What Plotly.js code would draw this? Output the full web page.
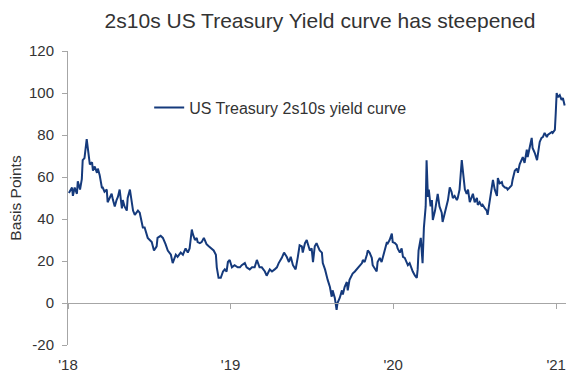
<!DOCTYPE html>
<html>
<head>
<meta charset="utf-8">
<script src="https://cdn.plot.ly/plotly-3.0.1.min.js"></script>
<style>html,body{margin:0;padding:0;background:#fff;}#chart{width:566px;height:374px;}</style>
</head>
<body>
<div id="chart"></div>
<script>
// Years elapsed since 1 Jan 2018 for each observation
const yearsFrom2018 = [
  0.006,0.025,0.031,0.043,0.055,0.061,0.074,0.086,0.092,0.104,0.117,0.129,0.135,0.148,0.154,0.166,0.178,0.184,0.197,0.209,
  0.215,0.227,0.240,0.246,0.258,0.270,0.277,0.289,0.301,0.307,0.320,0.332,0.338,0.350,0.363,0.369,0.381,0.393,0.400,0.412,
  0.424,0.430,0.443,0.455,0.461,0.473,0.486,0.492,
  0.516,0.529,0.547,0.553,0.572,0.584,0.602,0.615,0.633,0.645,0.664,0.676,0.695,0.707,0.725,0.738,0.750,0.762,0.768,0.781,
  0.793,0.799,0.811,0.824,0.836,0.854,0.867,0.885,0.897,0.910,0.916,0.928,0.940,0.953,0.965,0.977,0.983,
  0.996,1.008,1.026,1.045,1.057,1.069,1.088,1.100,1.119,1.131,1.149,1.162,1.180,1.192,1.211,1.223,1.242,1.254,1.272,1.285,
  1.297,1.315,1.328,1.346,1.358,1.371,1.383,1.401,1.414,1.426,1.438,1.444,
  1.457,1.469,1.475,1.487,1.500,1.506,1.518,1.530,1.537,1.549,1.561,1.567,1.580,1.592,1.598,1.610,1.623,1.629,1.641,1.653,
  1.659,1.672,1.684,1.690,1.702,1.715,1.721,1.733,1.746,1.752,1.764,1.776,1.782,1.795,1.807,1.813,1.825,1.838,1.844,1.856,
  1.868,1.875,1.887,1.899,1.905,1.918,1.930,1.936,1.948,1.961,1.967,
  1.979,1.991,1.998,2.010,2.022,2.028,2.041,2.053,2.059,2.071,2.084,2.090,2.102,2.114,2.120,2.133,2.145,2.151,2.157,2.170,
  2.176,2.182,2.188,2.194,2.200,2.206,2.213,2.219,2.231,2.237,2.243,2.256,2.268,2.274,2.286,2.299,2.305,2.317,2.329,2.336,
  2.348,2.360,2.366,2.379,2.391,2.397,2.409,2.422,2.428,2.440,2.452,2.459,
  2.471,2.483,2.489,2.502,2.514,2.520,2.532,2.545,2.551,2.563,2.575,2.581,2.588,2.594,2.606,2.612,2.624,2.637,2.643,2.655,
  2.667,2.674,2.686,2.698,2.704,2.717,2.729,2.735,2.747,2.760,2.766,2.778,2.790,2.797,2.809,2.821,2.827,2.840,2.852,2.858,
  2.870,2.883,2.889,2.901,2.913,2.919,2.932,2.944,2.950,2.963,2.975,2.981,2.993,2.999,3.006,3.012,3.024,3.036,3.042,3.055
];

// 2s10s spread, basis points
const spreadBp = [
  52.4,55,51,55,52,58,54,59,68,69,78,71,66,67,63,65,62,64,61,55,
  55,53,54,48,50,52,49,46,49,50.5,54,45,49,46,44,50,54,49,44,42,
  43,44,43,38,36,36,33,31,
  29,25,27,31,32,31,28,25,23,19,23,22,24,23,26,24,26,35,33,30,
  31,29,28.5,29,31,28,27,26,25,23,17,12,12,15,16,15,19.5,
  20.5,17,18,17,17,18,19,17,16,17,17,20.5,17,17,15,13,16,15,16,17,
  19,21.5,24,22,19.5,22,18,16,22,27.5,27,24,
  28.5,30,28.5,25,26,19.5,27,28.5,27,25,24,19,16,12,11,7.6,3,6,2.4,-3.3,
  0,2.4,6,4,7.6,10,6,11,13,14,15,16,17,18,19,20.5,19.5,23,25,24,
  21.5,18,16,15,19.5,21.5,19.5,22,25,29,28.5,
  30,33,29,28.5,27.6,26,24,26,22,21.5,19.5,18,19,16,15,13,12,16,25,31,
  22,19,36,43,46,68,50.5,54,46,49,39.5,44,50.5,52,46,43,38.6,43,46,49,
  55,53,50,51,49,50,54,68,64,54,52,54,
  48,50.5,52,48,50,46.7,48,46,46.7,45,44,42,46,50.5,56,58.6,54,51,59.5,57,
  57.6,56,55,54.8,54,55,56,58.6,63,64,62,66,68,69.5,66.7,73,69.5,74,78.6,73.8,
  71.4,68,72,76.7,78.6,79,81,79,80,81,81.4,81,82.4,90.5,100,98,99,96.7,97.6,94
];

const seriesName = 'US Treasury 2s10s yield curve';
const chartTitle = '2s10s US Treasury Yield curve has steepened';
const yTitle = 'Basis Points';
const yearTickVals = ['2018-01-01','2019-01-01','2020-01-01','2021-01-01'];
const yearTickText = ["'18","'19","'20","'21"];
const yTickVals = [-20,0,20,40,60,80,100,120];
const yTickText = ['-20','0','20','40','60','80','100','120'];
const xRange = ['2018-01-01','2021-01-23'];
const yRange = [-20, 120];

// convert "years since 2018" to ISO dates
const start = Date.UTC(2018,0,1);
const dates = yearsFrom2018.map(t => new Date(start + t*365.25*86400000).toISOString().slice(0,10));

const font = 'Liberation Sans, Arial, sans-serif';
const axisGray = '#a6a6a6';
const txt = '#333333';

const trace = {
  x: dates, y: spreadBp, type: 'scatter', mode: 'lines', name: seriesName,
  line: {color: '#153a7c', width: 2}, xaxis: 'x', yaxis: 'y'
};

const layout = {
  width: 566, height: 374,
  margin: {l: 68, r: 0, t: 51, b: 29},
  paper_bgcolor: '#fff', plot_bgcolor: '#fff',
  font: {family: font, color: txt, size: 15},
  title: {text: chartTitle, font: {family: font, size: 21, color: '#333'},
          xref: 'paper', x: 0.506, xanchor: 'center', yref: 'container', y: 0.945, yanchor: 'middle'},
  showlegend: true,
  legend: {x: 0.163, xanchor: 'left', y: 0.865, yanchor: 'top', bgcolor: 'rgba(0,0,0,0)',
           font: {family: font, size: 16, color: txt}},
  xaxis: {
    type: 'date', range: xRange, showgrid: false, zeroline: false, showline: false,
    tickmode: 'array', tickvals: yearTickVals, ticktext: yearTickText,
    ticks: 'outside', ticklen: 6, tickcolor: 'rgba(0,0,0,0)',
    tickfont: {family: font, size: 15, color: txt}
  },
  xaxis2: {
    type: 'date', range: xRange, overlaying: 'x', anchor: 'free',
    position: (0 - yRange[0]) / (yRange[1] - yRange[0]),
    showgrid: false, zeroline: false, showline: true, linecolor: axisGray, linewidth: 1,
    tickmode: 'array', tickvals: yearTickVals, ticks: 'outside', ticklen: 5, tickcolor: axisGray,
    showticklabels: false
  },
  yaxis: {
    range: yRange, tickmode: 'array', tickvals: yTickVals, ticktext: yTickText,
    showgrid: false, zeroline: false, showline: true, linecolor: axisGray, linewidth: 1,
    ticks: 'outside', ticklen: 5, tickcolor: axisGray, ticklabelstandoff: 5,
    tickfont: {family: font, size: 15, color: txt},
    title: {text: yTitle, font: {family: font, size: 15.5, color: txt}, standoff: 3}
  }
};

Plotly.newPlot('chart', [trace, {x: [], y: [], xaxis: 'x2', yaxis: 'y', showlegend: false, hoverinfo: 'skip', type: 'scatter'}], layout, {displayModeBar: false, staticPlot: true});
</script>
</body>
</html>
